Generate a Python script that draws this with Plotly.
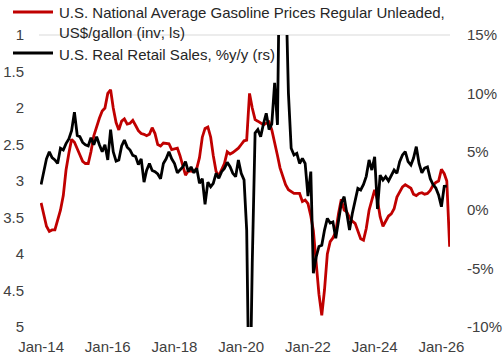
import pandas as pd
import plotly.graph_objects as go

# ---------------- data ----------------
start_month = "2014-01-01"

gasoline_price = [
    3.30, 3.45, 3.62, 3.69, 3.67, 3.67, 3.55, 3.40, 3.20, 2.85, 2.62, 2.43,
    2.47, 2.55, 2.64, 2.73, 2.76, 2.76, 2.60, 2.38, 2.25, 2.14, 2.04, 2.00,
    1.80, 1.75, 2.00, 2.20, 2.30, 2.18, 2.15, 2.22, 2.21, 2.17, 2.24, 2.31,
    2.35, 2.36, 2.38, 2.36, 2.27, 2.35, 2.50, 2.52, 2.48, 2.48, 2.49, 2.57,
    2.56, 2.55, 2.65, 2.78, 2.92, 2.86, 2.86, 2.87, 2.83, 2.68, 2.40, 2.28,
    2.26, 2.40, 2.65, 2.87, 2.93, 2.85, 2.76, 2.60, 2.63, 2.61, 2.58, 2.55,
    2.50, 2.45, 2.44, 1.80, 2.00, 2.16, 2.18, 2.21, 2.23, 2.21, 2.19, 2.30,
    2.46, 2.65, 2.82, 2.95, 3.05, 3.12, 3.15, 3.17, 3.17, 3.17, 3.28, 3.26,
    3.31, 3.48, 3.68, 4.13, 4.55, 4.84, 4.49, 4.00, 3.83, 3.78, 3.70, 3.45,
    3.25, 3.40, 3.42, 3.50, 3.55, 3.58, 3.70, 3.79, 3.81, 3.65, 3.40, 3.26,
    3.12, 3.26, 3.49, 3.62, 3.56, 3.48, 3.45, 3.38, 3.22, 3.16, 3.08, 3.05,
    3.08, 3.10, 3.18, 3.20, 3.17, 3.16, 3.18, 3.17, 3.13, 3.06, 3.02, 3.00,
    2.84, 2.90, 3.00, 3.90,
]

retail_sales_yoy = [
    2.2, 3.5, 4.4, 5.0, 4.5, 4.3, 4.0, 5.3, 5.15, 5.7, 6.1, 6.8,
    8.4, 6.4, 6.3, 5.8, 5.6, 5.5, 6.2, 5.6, 6.3, 5.6, 5.0, 5.6,
    4.3, 6.9, 5.0, 4.2, 4.3, 5.5, 6.0, 5.4, 5.15, 4.7, 4.6, 3.9,
    4.4, 2.4, 3.4, 4.0, 3.4, 3.3, 3.1, 2.7, 4.0, 4.4, 5.0, 4.4,
    4.0, 3.2, 3.45, 3.7, 4.16, 3.3, 3.7, 3.2, 3.6, 2.3, 2.7, 0.5,
    2.4, 2.0, 2.3, 3.16, 2.73, 3.3, 3.58, 4.1, 3.73, 3.16, 2.87, 4.3,
    3.16, 2.6, -1.7, -19.0, -4.55, 6.6, 6.9, 6.3, 7.4, 8.3, 6.9, 7.4,
    10.9, 7.3, 25.0, 45.0, 20.0, 10.0, 5.3, 4.73, 4.87, 4.0, 4.44, 4.0,
    1.2, 3.3, -5.4, -4.0, -3.1, -3.0, -1.7, -0.7, -1.1, -1.0, -2.4, -0.8,
    0.6, 1.16, -0.3, -1.7, -0.3, 0.9, 1.87, 1.73, 2.2, 2.9, 4.3, 3.44,
    4.58, 0.1, 3.0, 2.58, 2.87, 2.5, 3.0, 3.44, 3.16, 4.16, 4.73, 5.01,
    4.16, 3.87, 4.44, 5.44, 4.0, 3.2, 3.6, 3.7, 2.7, 2.2, 1.9, 1.3,
    0.3, 2.05, 2.07,
]

gas_name = "U.S. National Average Gasoline Prices Regular Unleaded,<br>US$/gallon (inv; ls)"
sales_name = "U.S. Real Retail Sales, %y/y (rs)"

left_ticks = [1, 1.5, 2, 2.5, 3, 3.5, 4, 4.5, 5]
left_labels = ["1", "1.5", "2", "2.5", "3", "3.5", "4", "4.5", "5"]
right_ticks = [-10, -5, 0, 5, 10, 15]
right_labels = ["-10%", "-5%", "0%", "5%", "10%", "15%"]

gas_dates = pd.date_range(start_month, periods=len(gasoline_price), freq="MS")
sales_dates = pd.date_range(start_month, periods=len(retail_sales_yoy), freq="MS")

# ---------------- figure ----------------
W, H = 504, 360
ML, MR, MT, MB = 40, 54, 35, 33
PW, PH = W - ML - MR, H - MT - MB

def px_x(x):
    return (x - ML) / PW

def px_y(y):
    return (H - MB - y) / PH

RED = "#C00000"
TXT = "#404040"
LEG = "#262626"
FONT = "Liberation Sans, Arial, sans-serif"
LW = 2.8

fig = go.Figure()
fig.add_trace(go.Scatter(
    x=gas_dates, y=gasoline_price, mode="lines", name=gas_name,
    line=dict(color=RED, width=LW), yaxis="y", showlegend=False,
))
fig.add_trace(go.Scatter(
    x=sales_dates, y=retail_sales_yoy, mode="lines", name=sales_name,
    line=dict(color="#000000", width=LW), yaxis="y2", showlegend=False,
))

fig.update_layout(
    width=W, height=H, autosize=False,
    margin=dict(l=ML, r=MR, t=MT, b=MB, pad=0, autoexpand=False),
    paper_bgcolor="white", plot_bgcolor="white",
    font=dict(family=FONT, size=15, color=TXT),
    xaxis=dict(
        type="date", range=["2013-12-20", "2026-04-05"],
        tick0="2014-01-01", dtick="M24", tickformat="%b-%y",
        showgrid=False, zeroline=False, showline=False, ticks="",
        ticklabelstandoff=9, automargin=False,
    ),
    yaxis=dict(
        range=[5, 1], tickvals=left_ticks, ticktext=left_labels,
        showgrid=False, zeroline=False, showline=False, ticks="",
        ticklabelstandoff=15, automargin=False,
    ),
    yaxis2=dict(
        range=[-10, 15], tickvals=right_ticks, ticktext=right_labels,
        overlaying="y", side="right",
        showgrid=False, zeroline=False, showline=False, ticks="",
        ticklabelstandoff=16, automargin=False,
    ),
    shapes=[
        dict(type="line", xref="paper", yref="paper", x0=px_x(39), x1=1, y0=1, y1=1,
             line=dict(color="#d9d9d9", width=1), layer="below"),
        dict(type="line", xref="paper", yref="paper", x0=px_x(13), x1=px_x(53),
             y0=px_y(12), y1=px_y(12), line=dict(color=RED, width=LW)),
        dict(type="line", xref="paper", yref="paper", x0=px_x(13), x1=px_x(53),
             y0=px_y(53), y1=px_y(53), line=dict(color="#000000", width=LW)),
    ],
    annotations=[
        dict(text="U.S. National Average Gasoline Prices Regular Unleaded,",
             xref="paper", yref="paper", x=px_x(57), y=px_y(12),
             xanchor="left", yanchor="middle", showarrow=False,
             font=dict(color=LEG)),
        dict(text="US$/gallon (inv; ls)",
             xref="paper", yref="paper", x=px_x(57), y=px_y(32),
             xanchor="left", yanchor="middle", showarrow=False,
             font=dict(color=LEG)),
        dict(text=sales_name,
             xref="paper", yref="paper", x=px_x(57), y=px_y(54),
             xanchor="left", yanchor="middle", showarrow=False,
             font=dict(color=LEG)),
    ],
)

fig.write_html(
    "out.html",
    config={"displayModeBar": False},
    post_script="document.body.style.margin='0';document.body.style.overflow='hidden';",
)
